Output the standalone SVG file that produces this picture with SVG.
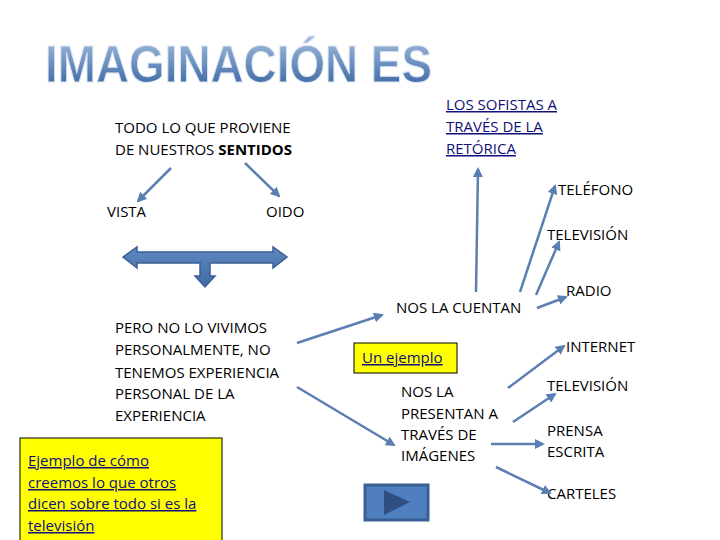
<svg xmlns="http://www.w3.org/2000/svg" width="720" height="540" viewBox="0 0 720 540">
<defs>
<linearGradient id="tg" x1="0" y1="0" x2="0" y2="1"><stop offset="0" stop-color="#a9bedb"/><stop offset="0.5" stop-color="#6a8fc0"/><stop offset="1" stop-color="#2f5d99"/></linearGradient>
<linearGradient id="bg" x1="0" y1="0" x2="0" y2="1"><stop offset="0" stop-color="#5f88c0"/><stop offset="1" stop-color="#3f6aa5"/></linearGradient>
<marker id="ah" viewBox="0 0 10 10" refX="8" refY="5" markerWidth="4" markerHeight="4" orient="auto"><path d="M0,0L10,5L0,10z" fill="#5b7fb3"/></marker>
</defs>
<style>
text{font-family:"Liberation Sans Narrow","Open Sans","Liberation Sans",sans-serif;font-size:15px;fill:#000}
.lk{fill:#10107a;text-decoration:underline}
.c line{stroke:#5b7fb3;stroke-width:2.5;marker-end:url(#ah)}
</style>
<rect width="720" height="540" fill="#fff"/>
<g id="title"><text x="45" y="82" textLength="387" lengthAdjust="spacingAndGlyphs" style="font-family:'Liberation Sans',sans-serif;font-size:52px;font-weight:bold;fill:url(#tg);stroke:#dde6f2;stroke-width:1">IMAGINACIÓN ES</text></g>
<g id="todo"><text x="115" y="133">TODO LO QUE PROVIENE</text><text x="115" y="155">DE NUESTROS <tspan font-weight="bold">SENTIDOS</tspan></text></g>
<g id="sofistas"><text class="lk" x="446" y="110">LOS  SOFISTAS A</text><text class="lk" x="446" y="132">TRAVÉS DE LA</text><text class="lk" x="446" y="154">RETÓRICA</text></g>
<g id="vista"><text x="107" y="217">VISTA</text></g>
<g id="oido"><text x="266" y="217">OIDO</text></g>
<g id="blockarrow"><path d="M123,257 L137,247 L137,252 L273,252 L273,247 L287,257 L273,268 L273,263 L210,263 L210,276 L215,276 L205,287 L195,276 L200,276 L200,263 L137,263 L137,268 Z" fill="url(#bg)" stroke="#3a5f94" stroke-width="1.5"/></g>
<g id="pero"><text x="115" y="333">PERO NO LO VIVIMOS</text><text x="115" y="355">PERSONALMENTE, NO</text><text x="115" y="378">TENEMOS EXPERIENCIA</text><text x="115" y="399">PERSONAL DE LA</text><text x="115" y="421">EXPERIENCIA</text></g>
<g id="ejemplo"><rect x="20" y="438" width="202" height="104" fill="#ffff00" stroke="#000" stroke-width="1"/><text class="lk" x="28" y="466">Ejemplo de cómo</text><text class="lk" x="28" y="488">creemos lo que otros</text><text class="lk" x="28" y="509">dicen sobre todo si es la</text><text class="lk" x="28" y="531">televisión</text></g>
<g id="unejemplo"><rect x="354" y="343" width="103" height="30" fill="#ffff00" stroke="#000" stroke-width="1"/><text class="lk" x="362" y="363">Un ejemplo</text></g>
<g id="cuentan"><text x="396" y="313">NOS LA CUENTAN</text></g>
<g id="presentan"><text x="401" y="397">NOS LA</text><text x="401" y="419">PRESENTAN A</text><text x="401" y="440">TRAVÉS DE</text><text x="401" y="461">IMÁGENES</text></g>
<g id="telefono"><text x="558" y="195">TELÉFONO</text></g>
<g id="tv1"><text x="547" y="240">TELEVISIÓN</text></g>
<g id="radio"><text x="566" y="296">RADIO</text></g>
<g id="internet"><text x="566" y="352">INTERNET</text></g>
<g id="tv2"><text x="547" y="391">TELEVISIÓN</text></g>
<g id="prensa"><text x="547" y="436">PRENSA</text><text x="547" y="457">ESCRITA</text></g>
<g id="carteles"><text x="547" y="499">CARTELES</text></g>
<g id="play"><rect x="365" y="485" width="63" height="35" fill="#4f7fbf" stroke="#3a5f94" stroke-width="3"/><path d="M384,490 L410,502 L384,515 Z" fill="#2e4f80"/></g>
<g class="c" id="connectors">
<line x1="171" y1="168" x2="138" y2="201"/>
<line x1="245" y1="163" x2="279" y2="196"/>
<line x1="297" y1="343" x2="382" y2="315"/>
<line x1="297" y1="387" x2="394" y2="445"/>
<line x1="476" y1="292" x2="478" y2="169"/>
<line x1="520" y1="292" x2="555" y2="186"/>
<line x1="536" y1="295" x2="559" y2="242"/>
<line x1="537" y1="308" x2="566" y2="297"/>
<line x1="508" y1="388" x2="564" y2="346"/>
<line x1="513" y1="422" x2="555" y2="394"/>
<line x1="491" y1="444" x2="543" y2="444"/>
<line x1="496" y1="467" x2="550" y2="493"/>
</g>
</svg>
